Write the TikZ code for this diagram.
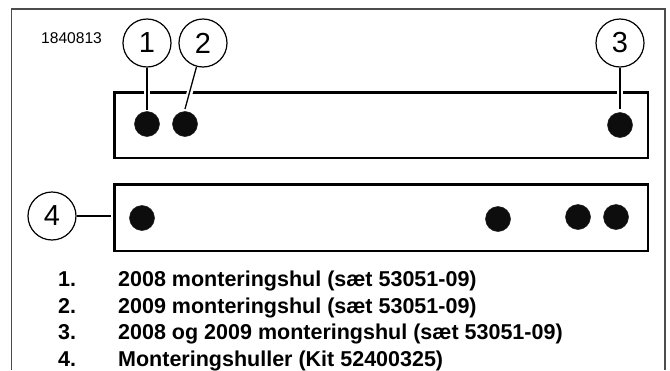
\documentclass[tikz,border=0pt]{standalone}
\usepackage{fontspec}
\setmainfont{Liberation Sans}
\begin{document}
\begin{tikzpicture}[x=1pt,y=-1pt,
  framel/.style={draw=black!70,line width=1.2pt},
  plate/.style={draw=black,line width=2.4pt,fill=white},
  hole/.style={circle,fill=black!95,draw=black!90,line width=.5pt,minimum size=25pt,inner sep=0pt},
  callout/.style={circle,draw=black,line width=1.2pt,fill=white,minimum size=48pt,inner sep=0pt,font=\fontsize{29}{29}\selectfont},
  leader/.style={draw=black,line width=1.3pt},
  halo/.style={draw=white,line width=6pt},
  legend/.style={anchor=base west,inner sep=0pt,font=\fontsize{21.5}{21.5}\selectfont\bfseries}]
\useasboundingbox (0,0) rectangle (670,370);
\fill[white] (0,0) rectangle (670,370);
\draw[framel] (11.5,370) -- (11.5,9) -- (665,9) -- (665,370);
\draw[plate] (114.5,92.5) rectangle (648,158);
\draw[plate] (114.5,184.5) rectangle (648,251);
\node[hole] (h1) at (147,124) {};
\node[hole] (h2) at (185,124) {};
\node[hole] (h3) at (620,125) {};
\node[hole] (h4) at (142,218) {};
\node[hole] (h5) at (498,219) {};
\node[hole] (h6) at (578,217) {};
\node[hole] (h7) at (616,217) {};
\node[callout] (c1) at (147,43) {1};
\node[callout] (c2) at (203,43) {2};
\node[callout] (c3) at (620,43) {3};
\node[callout] (c4) at (52,216) {4};
\coordinate (e1) at (147,110);
\coordinate (e2) at (185,109);
\coordinate (e3) at (620,109);
\coordinate (e4) at (111,216);
\draw[halo] (147,88) -- (147,97);
\draw[halo] (191,88) -- (188.5,97);
\draw[halo] (620,88) -- (620,97);
\draw[leader] (c1) -- (e1);
\draw[leader] (c2) -- (e2);
\draw[leader] (c3) -- (e3);
\draw[leader] (c4) -- (e4);
\node[anchor=base west,inner sep=0pt,font=\fontsize{15.6}{15.6}\selectfont] (id) at (41,43) {1840813};
\node[legend] (n1) at (58,286.5) {1.};
\node[legend] (t1) at (118,286.5) {2008 monteringshul (sæt 53051-09)};
\node[legend] (n2) at (58,313) {2.};
\node[legend] (t2) at (118,313) {2009 monteringshul (sæt 53051-09)};
\node[legend] (n3) at (58,339.5) {3.};
\node[legend] (t3) at (118,339.5) {2008 og 2009 monteringshul (sæt 53051-09)};
\node[legend] (n4) at (58,366) {4.};
\node[legend] (t4) at (118,366) {Monteringshuller (Kit 52400325)};
\end{tikzpicture}
\end{document}
